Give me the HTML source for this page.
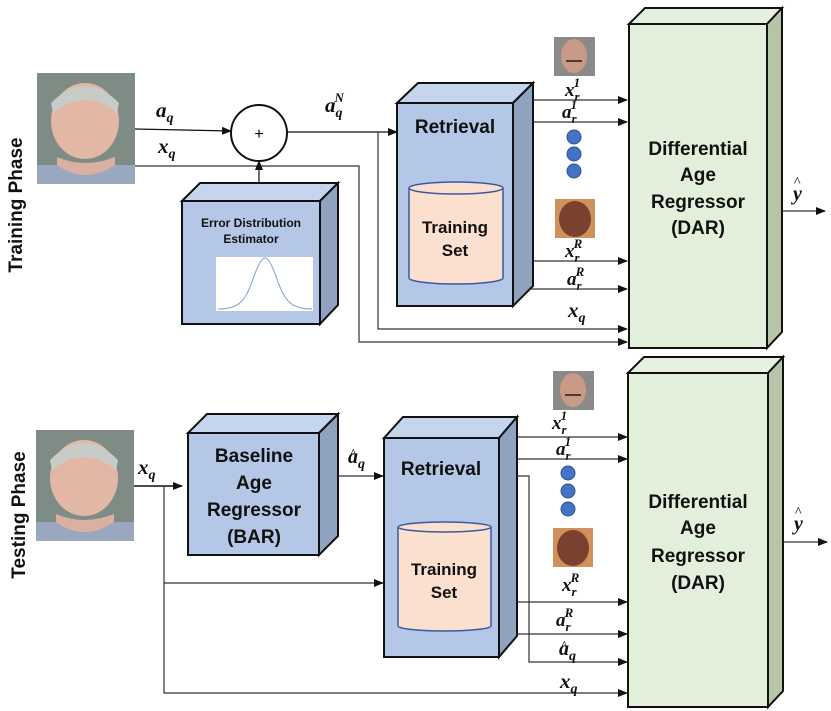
<!DOCTYPE html>
<html><head><meta charset="utf-8"><style>
html,body{margin:0;padding:0;background:#fff;}
svg{display:block;}
.t{font-family:"Liberation Sans",sans-serif;font-weight:bold;fill:#111;text-anchor:middle;}
.m{font-family:"Liberation Serif",serif;font-weight:bold;font-style:italic;fill:#111;}
</style></head><body>
<svg width="831" height="711" viewBox="0 0 831 711" xmlns="http://www.w3.org/2000/svg">
<defs>
<marker id="ar" markerWidth="10" markerHeight="8" refX="9" refY="4" orient="auto" markerUnits="userSpaceOnUse"><path d="M0,0 L10,4 L0,8 Z" fill="#111"/></marker>
<g id="face">
<rect x="0" y="0" width="98" height="111" fill="#7f8c86"/>
<ellipse cx="48" cy="48" rx="34" ry="38" fill="#e2b7a6"/>
<path d="M14,30 Q48,-4 82,30 L80,40 Q48,14 16,40 Z" fill="#c8ccc8"/>
<rect x="0" y="92" width="98" height="19" fill="#9aa8bf"/>
<path d="M20,92 Q48,112 78,92 L78,84 Q48,96 20,84Z" fill="#dcb0a0"/>
</g>
<g id="f2">
<rect x="0" y="0" width="41" height="39" fill="#8a8a88"/>
<ellipse cx="20" cy="19" rx="13" ry="17" fill="#c99a86"/>
<rect x="12" y="23" width="16" height="2" fill="#4a3a30"/>
</g>
<g id="f3">
<rect x="0" y="0" width="40" height="39" fill="#d0925a"/>
<ellipse cx="20" cy="20" rx="16" ry="18" fill="#7a4030"/>
</g>
</defs>

<!-- TRAINING -->
<text class="t" transform="translate(22,205) rotate(-90)" font-size="19">Training Phase</text>
<use href="#face" x="37" y="73"/>
<text class="m" x="156" y="117" font-size="21">a<tspan font-size="14" dy="5">q</tspan></text>
<text class="m" x="158" y="153" font-size="21">x<tspan font-size="14" dy="5">q</tspan></text>
<line x1="135" y1="129" x2="231" y2="131" stroke="#111" stroke-width="1.2" marker-end="url(#ar)"/>
<circle cx="259" cy="133" r="28" fill="#fff" stroke="#111" stroke-width="2"/>
<text x="259" y="139" font-family="Liberation Sans" font-size="16" text-anchor="middle">+</text>
<polyline points="135,166 359,166 359,342 627,342" fill="none" stroke="#333" stroke-width="1.2" marker-end="url(#ar)"/>
<polygon points="182,201 200,183 338,183 320,201" fill="#c5d5ee" stroke="#111" stroke-width="2"/>
<polygon points="320,201 338,183 338,305 320,324" fill="#8fa2bf" stroke="#111" stroke-width="2"/>
<rect x="182" y="201" width="138" height="123" fill="#b4c7e7" stroke="#111" stroke-width="2"/>
<line x1="259" y1="183" x2="259" y2="161" stroke="#111" stroke-width="1.2" marker-end="url(#ar)"/>
<text class="t" x="251" y="227" font-size="12">Error Distribution</text>
<text class="t" x="251" y="243" font-size="12">Estimator</text>
<rect x="216" y="257" width="97" height="54" fill="#fff"/>
<path d="M218,309 C240,309 245,300 252,282 C258,264 262,258 265,258 C268,258 272,264 278,282 C285,300 290,309 312,309" fill="none" stroke="#7a9ad0" stroke-width="1"/>
<text class="m" x="325" y="112" font-size="21">a<tspan font-size="14" dy="5">q</tspan><tspan font-size="13" dx="-8" dy="-15">N</tspan></text>
<line x1="287" y1="132" x2="397" y2="132" stroke="#111" stroke-width="1.2" marker-end="url(#ar)"/>
<polyline points="378,132 378,329 627,329" fill="none" stroke="#333" stroke-width="1.2" marker-end="url(#ar)"/>
<polygon points="397,103 418,83 533,83 513,103" fill="#c5d5ee" stroke="#111" stroke-width="2"/>
<polygon points="513,103 533,83 533,286 513,306" fill="#8fa2bf" stroke="#111" stroke-width="2"/>
<rect x="397" y="103" width="116" height="203" fill="#b4c7e7" stroke="#111" stroke-width="2"/>
<text class="t" x="455" y="133" font-size="19">Retrieval</text>
<path d="M409,188 L409,278 A47,6 0 0 0 503,278 L503,188" fill="#fbe0d0" stroke="#3d5a9e" stroke-width="1.5"/>
<ellipse cx="456" cy="188" rx="47" ry="6" fill="#fbe0d0" stroke="#3d5a9e" stroke-width="1.5"/>
<text class="t" x="455" y="233" font-size="17">Training</text>
<text class="t" x="455" y="256" font-size="17">Set</text>
<use href="#f2" x="554" y="37"/>
<use href="#f3" x="555" y="199"/>
<text class="m" x="565" y="96" font-size="19">x<tspan font-size="13" dy="5">r</tspan><tspan font-size="13" dx="-6" dy="-14">1</tspan></text>
<text class="m" x="562" y="118" font-size="19">a<tspan font-size="13" dy="5">r</tspan><tspan font-size="13" dx="-6" dy="-14">1</tspan></text>
<line x1="533" y1="100" x2="627" y2="100" stroke="#333" stroke-width="1.2" marker-end="url(#ar)"/>
<line x1="533" y1="122" x2="627" y2="122" stroke="#333" stroke-width="1.2" marker-end="url(#ar)"/>
<circle cx="574" cy="137" r="7" fill="#4472c4" stroke="#2f528f"/>
<circle cx="574" cy="154" r="7" fill="#4472c4" stroke="#2f528f"/>
<circle cx="574" cy="171" r="7" fill="#4472c4" stroke="#2f528f"/>
<text class="m" x="565" y="257" font-size="19">x<tspan font-size="13" dy="5">r</tspan><tspan font-size="13" dx="-6" dy="-14">R</tspan></text>
<text class="m" x="567" y="285" font-size="19">a<tspan font-size="13" dy="5">r</tspan><tspan font-size="13" dx="-6" dy="-14">R</tspan></text>
<line x1="533" y1="261" x2="627" y2="261" stroke="#333" stroke-width="1.2" marker-end="url(#ar)"/>
<line x1="530" y1="289" x2="627" y2="289" stroke="#333" stroke-width="1.2" marker-end="url(#ar)"/>
<text class="m" x="568" y="317" font-size="21">x<tspan font-size="14" dy="5">q</tspan></text>
<polygon points="629,24 645,8 782,8 767,24" fill="#e8f1e0" stroke="#111" stroke-width="2"/>
<polygon points="767,24 782,8 782,332 767,348" fill="#b6c4a8" stroke="#111" stroke-width="2"/>
<rect x="629" y="24" width="138" height="324" fill="#e2efda" stroke="#111" stroke-width="2"/>
<text class="t" x="698" y="155" font-size="19">Differential</text>
<text class="t" x="698" y="181" font-size="19">Age</text>
<text class="t" x="698" y="208" font-size="19">Regressor</text>
<text class="t" x="698" y="234" font-size="19">(DAR)</text>
<line x1="782" y1="211" x2="825" y2="211" stroke="#333" stroke-width="1.2" marker-end="url(#ar)"/>
<text class="m" x="793" y="200" font-size="20">y</text><text x="794" y="186" font-family="Liberation Serif" font-size="14">^</text>

<!-- TESTING -->
<text class="t" transform="translate(25,515) rotate(-90)" font-size="19">Testing Phase</text>
<use href="#face" x="36" y="430"/>
<text class="m" x="138" y="474" font-size="21">x<tspan font-size="14" dy="5">q</tspan></text>
<line x1="134" y1="486" x2="182" y2="486" stroke="#111" stroke-width="1.5" marker-end="url(#ar)"/>
<polyline points="164,486 164,693 627,693" fill="none" stroke="#333" stroke-width="1.2" marker-end="url(#ar)"/>
<line x1="164" y1="583" x2="383" y2="583" stroke="#333" stroke-width="1.2" marker-end="url(#ar)"/>
<polygon points="188,433 207,414 338,414 319,433" fill="#c5d5ee" stroke="#111" stroke-width="2"/>
<polygon points="319,433 338,414 338,536 319,555" fill="#8fa2bf" stroke="#111" stroke-width="2"/>
<rect x="188" y="433" width="131" height="122" fill="#b4c7e7" stroke="#111" stroke-width="2"/>
<text class="t" x="254" y="462" font-size="19">Baseline</text>
<text class="t" x="254" y="489" font-size="19">Age</text>
<text class="t" x="254" y="516" font-size="19">Regressor</text>
<text class="t" x="254" y="543" font-size="19">(BAR)</text>
<text class="m" x="348" y="463" font-size="20">a<tspan font-size="14" dy="5">q</tspan></text><text x="350" y="458" font-family="Liberation Serif" font-size="14">^</text>
<line x1="338" y1="476" x2="383" y2="476" stroke="#333" stroke-width="1.2" marker-end="url(#ar)"/>
<polygon points="384,438 403,417 517,417 499,438" fill="#c5d5ee" stroke="#111" stroke-width="2"/>
<polygon points="499,438 517,417 517,636 499,657" fill="#8fa2bf" stroke="#111" stroke-width="2"/>
<rect x="384" y="438" width="115" height="219" fill="#b4c7e7" stroke="#111" stroke-width="2"/>
<text class="t" x="441" y="475" font-size="19">Retrieval</text>
<path d="M398,527 L398,626 A46.5,5 0 0 0 491,626 L491,527" fill="#fbe0d0" stroke="#3d5a9e" stroke-width="1.5"/>
<ellipse cx="444.5" cy="527" rx="46.5" ry="5" fill="#fbe0d0" stroke="#3d5a9e" stroke-width="1.5"/>
<text class="t" x="444" y="575" font-size="17">Training</text>
<text class="t" x="444" y="598" font-size="17">Set</text>
<use href="#f2" x="553" y="371"/>
<use href="#f3" x="553" y="528"/>
<text class="m" x="552" y="429" font-size="19">x<tspan font-size="13" dy="5">r</tspan><tspan font-size="13" dx="-6" dy="-14">1</tspan></text>
<text class="m" x="556" y="455" font-size="19">a<tspan font-size="13" dy="5">r</tspan><tspan font-size="13" dx="-6" dy="-14">1</tspan></text>
<line x1="517" y1="437" x2="627" y2="437" stroke="#333" stroke-width="1.2" marker-end="url(#ar)"/>
<line x1="517" y1="459" x2="627" y2="459" stroke="#333" stroke-width="1.2" marker-end="url(#ar)"/>
<polyline points="517,476 529,476 529,662 627,662" fill="none" stroke="#333" stroke-width="1.2" marker-end="url(#ar)"/>
<circle cx="568" cy="473" r="7" fill="#4472c4" stroke="#2f528f"/>
<circle cx="568" cy="491" r="7" fill="#4472c4" stroke="#2f528f"/>
<circle cx="568" cy="509" r="7" fill="#4472c4" stroke="#2f528f"/>
<text class="m" x="562" y="591" font-size="19">x<tspan font-size="13" dy="5">r</tspan><tspan font-size="13" dx="-6" dy="-14">R</tspan></text>
<text class="m" x="556" y="626" font-size="19">a<tspan font-size="13" dy="5">r</tspan><tspan font-size="13" dx="-6" dy="-14">R</tspan></text>
<line x1="517" y1="602" x2="627" y2="602" stroke="#333" stroke-width="1.2" marker-end="url(#ar)"/>
<line x1="517" y1="634" x2="627" y2="634" stroke="#333" stroke-width="1.2" marker-end="url(#ar)"/>
<text class="m" x="559" y="655" font-size="20">a<tspan font-size="14" dy="5">q</tspan></text><text x="561" y="650" font-family="Liberation Serif" font-size="14">^</text>
<text class="m" x="560" y="688" font-size="21">x<tspan font-size="14" dy="5">q</tspan></text>
<polygon points="628,373 644,357 783,357 768,373" fill="#e8f1e0" stroke="#111" stroke-width="2"/>
<polygon points="768,373 783,357 783,691 768,707" fill="#b6c4a8" stroke="#111" stroke-width="2"/>
<rect x="628" y="373" width="140" height="334" fill="#e2efda" stroke="#111" stroke-width="2"/>
<text class="t" x="698" y="508" font-size="19">Differential</text>
<text class="t" x="698" y="534" font-size="19">Age</text>
<text class="t" x="698" y="562" font-size="19">Regressor</text>
<text class="t" x="698" y="589" font-size="19">(DAR)</text>
<line x1="783" y1="542" x2="827" y2="542" stroke="#333" stroke-width="1.2" marker-end="url(#ar)"/>
<text class="m" x="794" y="530" font-size="20">y</text><text x="795" y="516" font-family="Liberation Serif" font-size="14">^</text>
</svg>
</body></html>
